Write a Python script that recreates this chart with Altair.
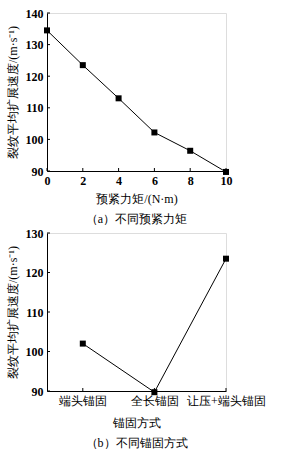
import altair as alt
import pandas as pd

# Panel (a)
torque = [0, 2, 4, 6, 8, 10]
speed_a = [134.5, 123.5, 113.0, 102.2, 96.4, 89.7]
x_ticks_a = [0, 2, 4, 6, 8, 10]
y_ticks_a = [90, 100, 110, 120, 130, 140]

# Panel (b)
methods = ["端头锚固", "全长锚固", "让压+端头锚固"]
method_pos = [0.5, 1.5, 2.5]
speed_b = [102.0, 89.7, 123.5]
y_ticks_b = [90, 100, 110, 120, 130]

Y_TITLE = "裂纹平均扩展速度/(m·s⁻¹)"
FONT = "Liberation Serif"
W, H = 179, 158

df_a = pd.DataFrame({"x": torque, "y": speed_a})
df_b = pd.DataFrame({"x": method_pos, "y": speed_b, "m": methods})


def panel(df, xscale, yscale, xaxis, yaxis, xticks, yticks, caption, cap_offset):
    base = alt.Chart(df)
    line = base.mark_line(color="black", strokeWidth=1).encode(
        x=alt.X("x:Q", scale=xscale, axis=xaxis),
        y=alt.Y("y:Q", scale=yscale, axis=yaxis),
    )
    pts = base.mark_square(color="black", size=36, opacity=1).encode(
        x=alt.X("x:Q", axis=xaxis), y=alt.Y("y:Q", axis=yaxis)
    )
    yt = alt.Chart(pd.DataFrame({"v": yticks})).mark_rule(color="black", strokeWidth=1).encode(
        y=alt.Y("v:Q", axis=yaxis), x=alt.value(0), x2=alt.value(3)
    )
    xt = alt.Chart(pd.DataFrame({"v": xticks})).mark_rule(color="black", strokeWidth=1).encode(
        x=alt.X("v:Q", axis=xaxis), y=alt.value(H), y2=alt.value(H - 3)
    )
    return alt.layer(line, yt, xt, pts).properties(
        width=W, height=H,
        title=alt.TitleParams(caption, orient="bottom", font=FONT, fontSize=12,
                              fontWeight="normal", offset=cap_offset, color="black"),
    )


common_axis = dict(
    domainColor="black", domainWidth=1, ticks=False, grid=False,
    labelFont=FONT, labelFontSize=12, labelColor="black",
    titleFont=FONT, titleFontSize=12, titleFontWeight="normal", titleColor="black",
    labelPadding=4, labelOverlap=False, labelFlush=False, labelBound=False,
)

xa = alt.Axis(values=x_ticks_a, title="预紧力矩/(N·m)", titlePadding=7,
              labelFontWeight="bold", **common_axis)
ya = alt.Axis(values=y_ticks_a, title=Y_TITLE, titlePadding=6,
              labelFontWeight="bold", **common_axis)
label_expr = "[" + ",".join("'%s'" % m for m in methods) + "][floor(datum.value)]"
xb = alt.Axis(values=method_pos, labelExpr=label_expr, title="锚固方式", titlePadding=11,
              labelFontWeight="normal", **common_axis)
yb = alt.Axis(values=y_ticks_b, title=Y_TITLE, titlePadding=6,
              labelFontWeight="bold", **common_axis)

pa = panel(df_a, alt.Scale(domain=[0, 10], nice=False, zero=False),
           alt.Scale(domain=[90, 140], nice=False, zero=False), xa, ya,
           x_ticks_a, y_ticks_a, "（a）不同预紧力矩", 10)
pb = panel(df_b, alt.Scale(domain=[0, 2.5], nice=False, zero=False),
           alt.Scale(domain=[90, 130], nice=False, zero=False), xb, yb,
           method_pos, y_ticks_b, "（b）不同锚固方式", 10)

chart = alt.vconcat(pa, pb, spacing=0).properties(
    padding={"left": 5, "top": 6, "right": 0, "bottom": 0}
).configure_view(stroke=None).configure(background="white")

chart.save("out.html", embed_options={"renderer": "svg", "actions": False})
